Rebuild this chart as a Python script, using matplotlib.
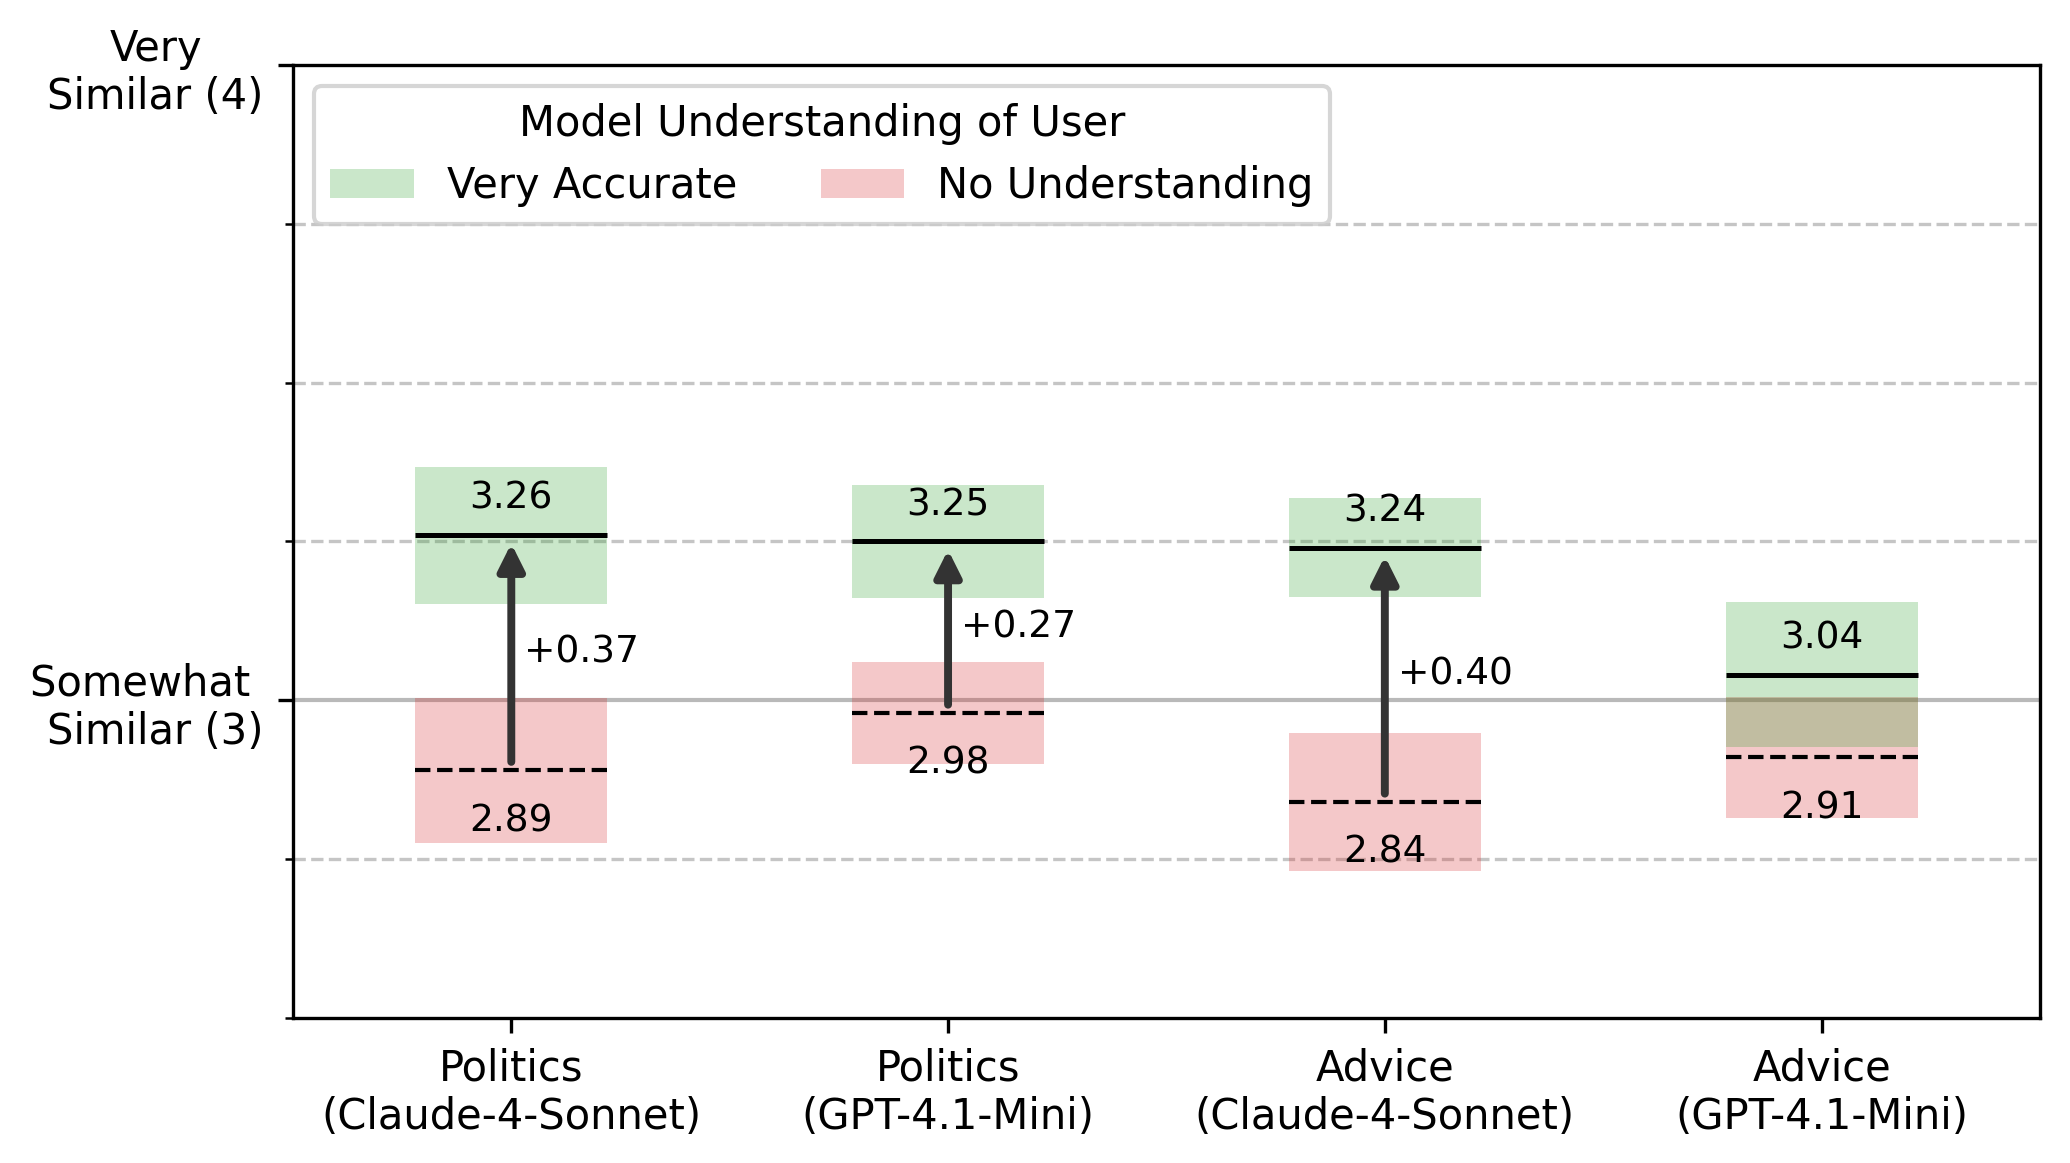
import numpy as np
from matplotlib import pyplot as plt


# categories (task / model) and measured scores
categories = ['Politics\n(Claude-4-Sonnet)', 'Politics\n(GPT-4.1-Mini)',
              'Advice\n(Claude-4-Sonnet)', 'Advice\n(GPT-4.1-Mini)']

accurate_mean = [3.26, 3.25, 3.24, 3.04]
accurate_err = [0.108, 0.089, 0.078, 0.114]

none_mean = [2.89, 2.98, 2.84, 2.91]
none_err = [0.114, 0.081, 0.109, 0.096]

show_arrow = [True, True, True, False]

ytick_values = [2.5, 2.75, 3.0, 3.25, 3.5, 3.75, 4.0]
ytick_labels = ['', '', 'Somewhat \nSimilar (3)', '', '', '', 'Very\nSimilar (4)']

# quelques paramètres pour le graphique
plt.rcParams['font.size'] = 10
plt.rcParams['font.family'] = 'DejaVu Sans'

fig, ax = plt.subplots(figsize=(6.9, 3.8767), dpi=300)
fig.subplots_adjust(left=0.1415, right=0.9855, top=0.9441, bottom=0.1247)

x = np.arange(len(categories))
width = 0.44

none_mean = np.array(none_mean)
none_err = np.array(none_err)
accurate_mean = np.array(accurate_mean)
accurate_err = np.array(accurate_err)

# red boxes first, green on top
ax.bar(x, 2 * none_err, bottom=none_mean - none_err, width=width,
       color='C3', alpha=0.25, label='No Understanding', zorder=2)
ax.bar(x, 2 * accurate_err, bottom=accurate_mean - accurate_err, width=width,
       color='C2', alpha=0.25, label='Very Accurate', zorder=2)

ax.hlines(accurate_mean, x - width / 2, x + width / 2, colors='black',
          linewidth=1.2, zorder=3)
ax.hlines(none_mean, x - width / 2, x + width / 2, colors='black',
          linewidth=1.0, linestyles='--', zorder=3)

for i in range(len(categories)):
    ax.text(x[i], accurate_mean[i] + 0.057, f'{accurate_mean[i]:.2f}',
            ha='center', va='center', fontsize=9, zorder=4)
    ax.text(x[i], none_mean[i] - 0.080, f'{none_mean[i]:.2f}',
            ha='center', va='center', fontsize=9, zorder=4)

    if show_arrow[i]:
        diff = accurate_mean[i] - none_mean[i]
        ax.annotate('', xy=(x[i], accurate_mean[i]), xytext=(x[i], none_mean[i]),
                    arrowprops=dict(arrowstyle='-|>', color='#333333', lw=1.9,
                                    mutation_scale=13), zorder=5)
        ax.text(x[i] + 0.03, (accurate_mean[i] + none_mean[i]) / 2, f'+{diff:.2f}',
                ha='left', va='center', fontsize=9, zorder=5)

# grille
ax.axhline(3.0, color='gray', linewidth=1.0, alpha=0.55, zorder=1)
for v in ytick_values:
    if v not in (2.5, 3.0, 4.0):
        ax.axhline(v, color='gray', linewidth=0.8, linestyle='--', alpha=0.45, zorder=1)

ax.set_xlim(-0.5, len(categories) - 0.5)
ax.set_ylim(2.5, 4.0)
ax.set_xticks(x)
ax.set_xticklabels(categories)
ax.set_yticks([v for v, l in zip(ytick_values, ytick_labels) if l])
ax.set_yticklabels([l for l in ytick_labels if l])
ax.set_yticks([v for v, l in zip(ytick_values, ytick_labels) if not l], minor=True)
for lbl in ax.get_yticklabels():
    if lbl.get_text().startswith('Very'):
        lbl.set_multialignment('center')
    else:
        lbl.set_multialignment('right')

handles, labels = ax.get_legend_handles_labels()
ax.legend(handles[::-1], labels[::-1], title='Model Understanding of User',
          loc='upper left', ncol=2)

plt.savefig('out.png')
